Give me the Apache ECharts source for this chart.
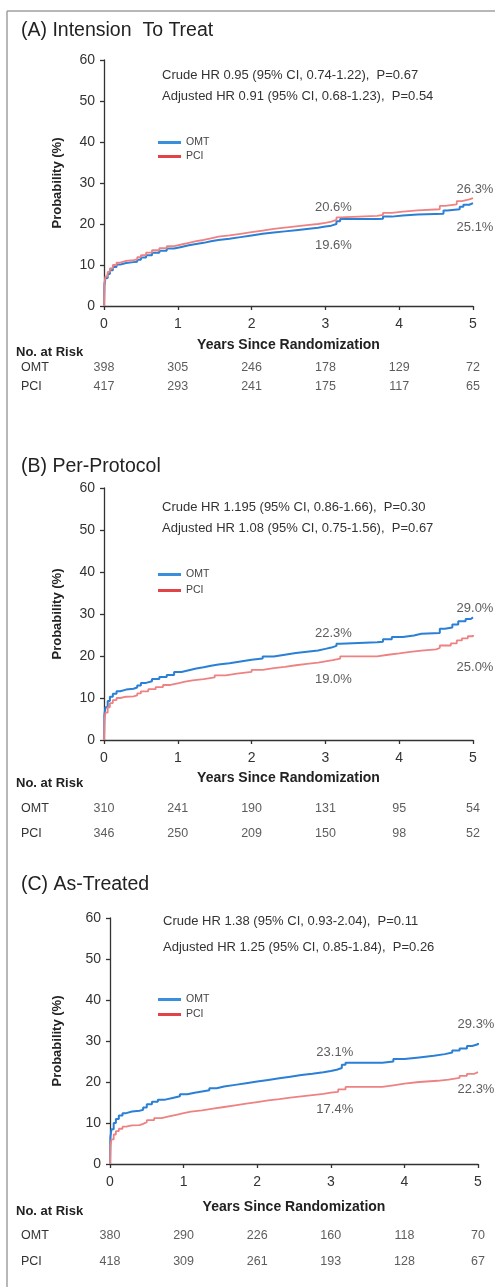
<!DOCTYPE html>
<html><head><meta charset="utf-8">
<script src="https://cdn.jsdelivr.net/npm/echarts/dist/echarts.min.js"></script>
<style>html,body{margin:0;padding:0;background:#fff}#c{width:495px;height:1287px}</style>
</head><body><div id="c"></div>
<script>
// ---------------- DATA ----------------
const years = [0, 1, 2, 3, 4, 5];
const groups = ['OMT', 'PCI'];
const panelTitles = ['(A) Intension  To Treat', '(B) Per-Protocol', '(C) As-Treated'];
const hrCrude = ['Crude HR 0.95 (95% CI, 0.74-1.22),  P=0.67',
                 'Crude HR 1.195 (95% CI, 0.86-1.66),  P=0.30',
                 'Crude HR 1.38 (95% CI, 0.93-2.04),  P=0.11'];
const hrAdjusted = ['Adjusted HR 0.91 (95% CI, 0.68-1.23),  P=0.54',
                    'Adjusted HR 1.08 (95% CI, 0.75-1.56),  P=0.67',
                    'Adjusted HR 1.25 (95% CI, 0.85-1.84),  P=0.26'];
const yTicks = [0, 10, 20, 30, 40, 50, 60];

// Kaplan-Meier cumulative incidence curves [years, %]
const curveA_OMT = [[0,0],[0.005,5.0],[0.02,6.8],[0.05,7.8],[0.08,8.7],[0.12,9.5],[0.17,10.1],[0.22,10.5],[0.3,10.7],[0.4,10.8],[0.45,11.3],[0.5,11.8],[0.57,12.4],[0.65,13.0],[0.75,13.5],[0.85,14.0],[0.95,14.4],[1.05,14.8],[1.15,15.1],[1.25,15.4],[1.35,15.8],[1.45,16.1],[1.55,16.4],[1.7,16.8],[1.85,17.2],[2.0,17.6],[2.15,17.9],[2.3,18.2],[2.45,18.5],[2.6,18.8],[2.75,19.1],[2.9,19.4],[3.0,19.6],[3.08,20.0],[3.15,20.7],[3.2,21.2],[3.7,21.3],[3.78,21.8],[3.9,22.1],[4.05,22.3],[4.25,22.5],[4.6,23.3],[4.65,23.6],[4.82,24.2],[4.87,24.7],[4.95,25.1],[5.0,25.1]];
const curveA_PCI = [[0,0],[0.005,5.5],[0.02,7.2],[0.05,8.3],[0.08,9.2],[0.12,10.0],[0.17,10.6],[0.22,11.0],[0.3,11.2],[0.4,11.4],[0.45,11.9],[0.5,12.4],[0.57,13.0],[0.65,13.6],[0.75,14.1],[0.85,14.6],[0.95,15.0],[1.05,15.4],[1.15,15.8],[1.25,16.1],[1.35,16.5],[1.45,16.9],[1.55,17.2],[1.7,17.6],[1.85,18.0],[2.0,18.4],[2.15,18.8],[2.3,19.1],[2.45,19.4],[2.6,19.7],[2.75,20.0],[2.9,20.3],[3.0,20.6],[3.08,21.0],[3.15,21.6],[3.2,22.0],[3.7,22.2],[3.78,22.7],[3.9,23.0],[4.05,23.3],[4.25,23.6],[4.55,24.4],[4.62,24.8],[4.78,25.6],[4.85,26.0],[4.95,26.3],[5.0,26.3]];
const curveB_OMT = [[0,0],[0.005,6.0],[0.02,7.8],[0.05,9.3],[0.08,10.3],[0.12,11.0],[0.17,11.6],[0.22,12.0],[0.3,12.2],[0.4,12.5],[0.45,13.0],[0.5,13.6],[0.57,14.0],[0.65,14.5],[0.75,15.0],[0.85,15.5],[0.95,16.2],[1.05,16.6],[1.15,17.0],[1.25,17.3],[1.35,17.7],[1.45,18.0],[1.55,18.3],[1.7,18.7],[1.85,19.1],[2.0,19.4],[2.15,19.9],[2.3,20.3],[2.45,20.7],[2.6,21.0],[2.75,21.3],[2.9,21.7],[3.0,22.0],[3.08,22.4],[3.15,22.9],[3.2,23.3],[3.7,23.4],[3.78,24.0],[3.9,24.5],[4.05,24.9],[4.2,25.3],[4.3,25.5],[4.55,26.5],[4.62,26.8],[4.72,27.5],[4.8,28.3],[4.9,28.8],[4.97,29.2],[5.0,29.2]];
const curveB_PCI = [[0,0],[0.005,4.8],[0.02,6.5],[0.05,7.8],[0.08,8.8],[0.12,9.5],[0.17,10.0],[0.22,10.3],[0.3,10.4],[0.4,10.6],[0.45,11.1],[0.5,11.6],[0.6,12.1],[0.7,12.6],[0.8,13.1],[0.9,13.5],[1.0,13.9],[1.1,14.2],[1.2,14.5],[1.35,14.9],[1.5,15.4],[1.65,15.8],[1.8,16.2],[2.0,16.7],[2.15,17.1],[2.3,17.4],[2.45,17.8],[2.6,18.1],[2.75,18.4],[2.9,18.7],[3.0,19.0],[3.1,19.4],[3.2,19.9],[3.7,20.3],[3.85,20.6],[4.0,21.0],[4.15,21.3],[4.3,21.6],[4.5,21.9],[4.55,22.5],[4.7,23.0],[4.78,23.7],[4.85,24.2],[4.93,24.7],[5.0,25.0]];
const curveC_OMT = [[0,0],[0.005,6.5],[0.02,8.5],[0.05,10.0],[0.08,11.0],[0.12,11.8],[0.17,12.4],[0.22,12.8],[0.3,13.0],[0.4,13.2],[0.45,13.8],[0.5,14.6],[0.57,15.2],[0.65,15.7],[0.75,16.1],[0.85,16.5],[0.95,17.0],[1.05,17.4],[1.15,17.7],[1.25,18.0],[1.35,18.5],[1.45,18.9],[1.55,19.3],[1.7,19.7],[1.85,20.1],[2.0,20.5],[2.15,20.9],[2.3,21.3],[2.45,21.7],[2.6,22.0],[2.75,22.4],[2.9,22.7],[3.0,23.0],[3.08,23.4],[3.15,24.2],[3.2,24.7],[3.7,25.0],[3.85,25.6],[4.0,26.0],[4.2,26.4],[4.4,26.8],[4.55,27.2],[4.65,27.7],[4.75,28.2],[4.85,28.8],[4.92,29.2],[5.0,29.5]];
const curveC_PCI = [[0,0],[0.005,4.5],[0.02,6.0],[0.05,7.2],[0.08,8.0],[0.12,8.6],[0.17,9.1],[0.22,9.4],[0.3,9.5],[0.4,9.8],[0.45,10.2],[0.5,10.7],[0.6,11.2],[0.7,11.6],[0.8,12.0],[0.9,12.4],[1.0,12.8],[1.1,13.1],[1.25,13.5],[1.4,13.9],[1.55,14.3],[1.7,14.7],[1.85,15.1],[2.0,15.5],[2.15,15.8],[2.3,16.2],[2.45,16.5],[2.6,16.8],[2.75,17.1],[2.9,17.4],[3.0,17.6],[3.1,18.2],[3.2,18.8],[3.7,19.2],[3.85,19.6],[4.0,20.0],[4.2,20.3],[4.45,20.6],[4.6,21.0],[4.75,21.5],[4.85,22.0],[4.95,22.4],[5.0,22.5]];

// Annotated estimates at 3 and 5 years [years, %]
const estA_OMT = [[3, 19.6], [5, 25.1]];
const estA_PCI = [[3, 20.6], [5, 26.3]];
const estB_OMT = [[3, 22.3], [5, 29.0]];
const estB_PCI = [[3, 19.0], [5, 25.0]];
const estC_OMT = [[3, 23.1], [5, 29.3]];
const estC_PCI = [[3, 17.4], [5, 22.3]];

// Number at risk
const riskA_OMT = [398, 305, 246, 178, 129, 72];
const riskA_PCI = [417, 293, 241, 175, 117, 65];
const riskB_OMT = [310, 241, 190, 131, 95, 54];
const riskB_PCI = [346, 250, 209, 150, 98, 52];
const riskC_OMT = [380, 290, 226, 160, 118, 70];
const riskC_PCI = [418, 309, 261, 193, 128, 67];

const curves = [[curveA_OMT, curveA_PCI], [curveB_OMT, curveB_PCI], [curveC_OMT, curveC_PCI]];
const estimates = [[estA_OMT, estA_PCI], [estB_OMT, estB_PCI], [estC_OMT, estC_PCI]];
const risks = [[riskA_OMT, riskA_PCI], [riskB_OMT, riskB_PCI], [riskC_OMT, riskC_PCI]];

// ---------------- LAYOUT / STYLE ----------------
const FONT = '"Liberation Sans", Arial, sans-serif';
const lineColors = {OMT: '#2a7fd6', PCI: '#ee8282'};
const legendColors = {OMT: '#3a8fdc', PCI: '#e04448'};
const layout = [
  {grid: {left: 104, top: 60, width: 369, height: 246}, titleY: 31, hrX: 162, hrY: [75, 96],
   legendTop: 137, legendGap: 3, xNameGap: 32, yNameGap: 40, riskHeadY: 352,
   riskGrid: {left: 104, width: 369, top: 358, height: 38}, rowMargin: 83,
   annOff: [[[8, 20], [2, 24]], [[8, -14], [2, -9]]]},
  {grid: {left: 104, top: 488, width: 369, height: 252}, titleY: 467, hrX: 162, hrY: [507, 528],
   legendTop: 569, legendGap: 5, xNameGap: 31, yNameGap: 40, riskHeadY: 783,
   riskGrid: {left: 104, width: 369, top: 796, height: 50}, rowMargin: 83,
   annOff: [[[8, -13], [2, -10]], [[8, 19], [2, 32]]]},
  {grid: {left: 110, top: 918, width: 368, height: 246}, titleY: 885, hrX: 163, hrY: [921, 947],
   legendTop: 994, legendGap: 4, xNameGap: 36, yNameGap: 46, riskHeadY: 1211,
   riskGrid: {left: 110, width: 368, top: 1223, height: 52}, rowMargin: 89,
   annOff: [[[4, -17], [-2, -19]], [[4, 17], [-2, 17]]]}
];

// ---------------- BUILD ----------------
const grid = [], xAxis = [], yAxis = [], series = [], legend = [], graphic = [];

graphic.push({type: 'line', shape: {x1: 7, y1: 11, x2: 495, y2: 11}, style: {stroke: '#a0a0a0', lineWidth: 1.5}, silent: true});
graphic.push({type: 'line', shape: {x1: 7, y1: 11, x2: 7, y2: 1287}, style: {stroke: '#a0a0a0', lineWidth: 1.5}, silent: true});

layout.forEach((L, i) => {
  const gi = i * 2, ri = i * 2 + 1;
  grid.push(L.grid);
  grid.push(L.riskGrid);

  xAxis.push({
    type: 'value', gridIndex: gi, min: years[0], max: years[years.length - 1], interval: 1,
    axisLine: {lineStyle: {color: '#333', width: 1.3}},
    axisTick: {length: 4, lineStyle: {color: '#333', width: 1.3}},
    axisLabel: {fontSize: 14, color: '#333', margin: 11, fontFamily: FONT},
    splitLine: {show: false},
    name: 'Years Since Randomization', nameLocation: 'middle', nameGap: L.xNameGap,
    nameTextStyle: {fontSize: 14, fontWeight: 'bold', color: '#222', fontFamily: FONT}
  });
  yAxis.push({
    type: 'value', gridIndex: gi, min: yTicks[0], max: yTicks[yTicks.length - 1], interval: 10,
    axisLine: {show: true, lineStyle: {color: '#333', width: 1.3}},
    axisTick: {show: true, length: 4, lineStyle: {color: '#333', width: 1.3}},
    axisLabel: {fontSize: 14, color: '#333', margin: 9, fontFamily: FONT},
    splitLine: {show: false},
    name: 'Probability (%)', nameLocation: 'middle', nameGap: L.yNameGap, nameRotate: 90,
    nameTextStyle: {fontSize: 13, fontWeight: 'bold', color: '#222', fontFamily: FONT}
  });
  xAxis.push({type: 'value', gridIndex: ri, min: years[0], max: years[years.length - 1], show: false});
  yAxis.push({
    type: 'category', gridIndex: ri, data: groups, inverse: true,
    axisLine: {show: false}, axisTick: {show: false}, splitLine: {show: false},
    axisLabel: {fontSize: 12.5, color: '#333', align: 'left', margin: L.rowMargin, fontFamily: FONT}
  });

  groups.forEach((g, k) => {
    series.push({
      name: g, type: 'line', xAxisIndex: gi, yAxisIndex: gi, step: 'end',
      data: curves[i][k], showSymbol: false, symbol: 'none',
      lineStyle: {color: lineColors[g], width: g === 'OMT' ? 2 : 1.8},
      itemStyle: {color: legendColors[g]}, z: g === 'OMT' ? 3 : 4, silent: true
    });
    series.push({
      name: g + ' estimate', type: 'scatter', xAxisIndex: gi, yAxisIndex: gi,
      symbolSize: 1, itemStyle: {color: 'rgba(0,0,0,0)'}, silent: true, z: 6,
      data: estimates[i][k].map((d, j) => ({
        value: d,
        label: {show: true, position: 'inside', offset: L.annOff[k][j],
                formatter: p => p.value[1].toFixed(1) + '%',
                fontSize: 13, color: '#333', fontFamily: FONT}
      }))
    });
    series.push({
      name: g + ' at risk', type: 'scatter', xAxisIndex: ri, yAxisIndex: ri,
      symbolSize: 1, itemStyle: {color: 'rgba(0,0,0,0)'}, silent: true,
      data: years.map((t, j) => [t, g, risks[i][k][j]]),
      label: {show: true, position: 'inside', formatter: p => String(p.value[2]),
              fontSize: 12.5, color: '#333', fontFamily: FONT}
    });
  });

  legend.push({
    data: groups, orient: 'vertical', left: 158, top: L.legendTop, itemGap: L.legendGap,
    itemWidth: 23, itemHeight: 3, icon: 'rect', selectedMode: false,
    textStyle: {fontSize: 10.5, color: '#444', fontFamily: FONT}, padding: 0
  });

  graphic.push({type: 'text', x: 21, y: L.titleY, silent: true,
    style: {text: panelTitles[i], font: '19.5px ' + FONT, fill: '#222', verticalAlign: 'middle'}});
  graphic.push({type: 'text', x: L.hrX, y: L.hrY[0], silent: true,
    style: {text: hrCrude[i], font: '13px ' + FONT, fill: '#333', verticalAlign: 'middle'}});
  graphic.push({type: 'text', x: L.hrX, y: L.hrY[1], silent: true,
    style: {text: hrAdjusted[i], font: '13px ' + FONT, fill: '#333', verticalAlign: 'middle'}});
  graphic.push({type: 'text', x: 16, y: L.riskHeadY, silent: true,
    style: {text: 'No. at Risk', font: 'bold 13px ' + FONT, fill: '#222', verticalAlign: 'middle'}});
});

const chart = echarts.init(document.getElementById('c'), null, {renderer: 'canvas'});
chart.setOption({
  backgroundColor: '#ffffff', animation: false,
  grid, xAxis, yAxis, series, legend, graphic
});
</script></body></html>
